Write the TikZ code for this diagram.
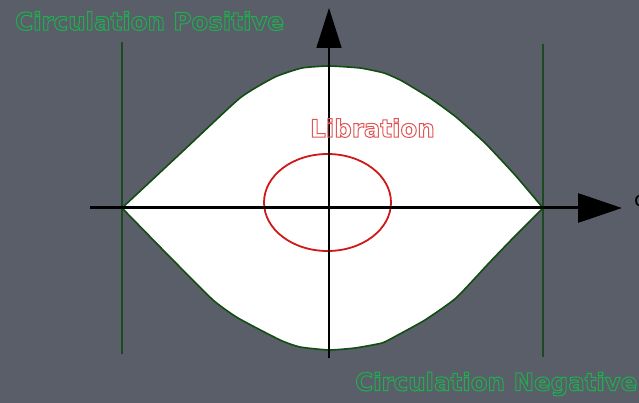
\documentclass[tikz,border=0pt]{standalone}
\usepackage{fontspec}
\setmainfont{DejaVu Sans}
\usetikzlibrary{arrows.meta}
\definecolor{bg}{HTML}{5A5E69}
\definecolor{lensline}{HTML}{124D12}
\definecolor{vline}{HTML}{1B4A22}
\definecolor{labgreen}{HTML}{1DB04F}
\definecolor{labred}{HTML}{E05555}
\definecolor{ellred}{HTML}{D01818}
\newcommand\outlinetext[1]{\special{pdf:literal direct 1 Tr 1.0 w}#1\special{pdf:literal direct 0 Tr}}
\tikzset{
  lbl/.style={font=\bfseries\fontsize{24.5}{24.5}\selectfont, inner sep=0pt, anchor=west},
  sep/.style={draw=vline, line width=1.4pt},
}
\begin{document}
\begin{tikzpicture}[x=1pt,y=-1pt]
\fill[bg] (0,0) rectangle (639,403);
\useasboundingbox (0,0) rectangle (639,403);
% coordinates
\coordinate (L) at (122,208);
\coordinate (R) at (543,208);
\coordinate (T) at (329,66);
\coordinate (B) at (329,350);
% lens
\filldraw[fill=white, draw=lensline, line width=1.6pt, line join=round]
  plot[smooth, tension=0.3] coordinates {(122,208) (182,152) (240,98) (275,77) (302,68) (329,66) (360,68) (384,73) (402,81) (430,98) (456,117) (485,143) (515,175) (543,208)}
  -- plot[smooth, tension=0.3] coordinates {(543,208) (515,236) (489,263) (456,298) (425,320) (396,336) (382,343) (355,348) (329,350) (300,347) (280,340) (238,318) (213,300) (168,255) (122,208)}
  -- cycle;
% separatrix verticals
\coordinate (v1t) at (122,42); \coordinate (v1b) at (122,354);
\coordinate (v2t) at (543,44); \coordinate (v2b) at (543,357);
\draw[sep] (v1t) -- (v1b);
\draw[sep] (v2t) -- (v2b);
% libration ellipse
\coordinate (E) at (327.5,202.5);
\draw[ellred, line width=1.8pt] (E) ellipse [x radius=63.5, y radius=48.5];
% axes
\coordinate (xs) at (90,208); \coordinate (xe) at (622,208);
\coordinate (ys) at (329,358); \coordinate (ye) at (329,8);
\draw[line width=3pt, -{Triangle[length=44pt,width=29pt]}] (xs) -- (xe);
\draw[line width=1.6pt, -{Triangle[length=40pt,width=25pt]}] (ys) -- (ye);
% labels
\node[lbl, text=labgreen] (cp) at (15,21) {\outlinetext{Circulation Positive}};
\node[lbl, text=labgreen] (cn) at (355,384) {\outlinetext{Circulation Negative}};
\node[lbl, text=labred] (lib) at (310,128) {\outlinetext{Libration}};
\node[inner sep=0pt, anchor=west, font=\fontsize{20}{20}\selectfont] (q) at (634,201) {c};
\end{tikzpicture}
\end{document}
